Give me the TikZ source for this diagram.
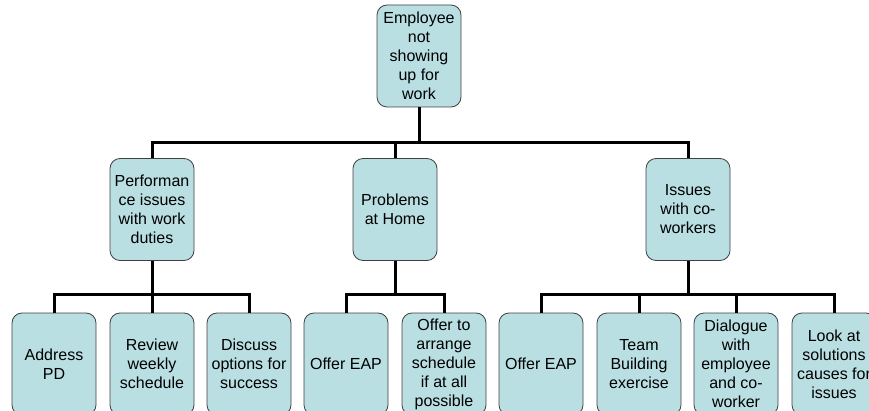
\documentclass[tikz,border=0pt]{standalone}
\usepackage{fontspec}
\setmainfont{Liberation Sans}
\usepackage{tikz}
\definecolor{boxfill}{RGB}{185,223,227}
\definecolor{boxline}{RGB}{64,64,64}
\tikzset{
    every node/.style={rectangle, rounded corners=10pt, fill=boxfill, draw=boxline,
    	line width=0.8pt, minimum width=84pt, minimum height=102pt, inner sep=2pt,
    	align=center, font=\fontsize{16}{19}\selectfont}
}
\tikzset{
    link/.style={line width=3pt, black}
}

\begin{document}
\begin{tikzpicture}[x=1pt, y=-1pt]
	\clip (0,0) rectangle (869,411);
	\node (1) at (419, 56) {Employee\\not\\showing\\up for\\work};
	\node (2) at (152, 209.5) {Performan\\ce issues\\with work\\duties};
	\node (3) at (395, 209.5) {Problems\\at Home};
	\node (4) at (688, 209.5) {Issues\\with co-\\workers};
	\node (5) at (54, 364) {Address\\PD};
	\node (6) at (152, 364) {Review\\weekly\\schedule};
	\node (7) at (249, 364) {Discuss\\options for\\success};
	\node (8) at (346, 364) {Offer EAP};
	\node (9) at (444, 364) {Offer to\\arrange\\schedule\\if at all\\possible};
	\node (10) at (541, 364) {Offer EAP};
	\node (11) at (639, 364) {Team\\Building\\exercise};
	\node (12) at (736, 364) {Dialogue\\with\\employee\\and co-\\worker};
	\node (13) at (834, 364) {Look at\\solutions\\causes for\\issues};
	
	\draw[link] (1.south) -- ++(0,35) -| (2.north);
	\draw[link] (1.south) -- ++(0,35) -| (3.north);
	\draw[link] (1.south) -- ++(0,35) -| (4.north);
	
	\draw[link] (2.south) -- ++(0,34) -| (5.north);
	\draw[link] (2.south) -- ++(0,34) -| (6.north);
	\draw[link] (2.south) -- ++(0,34) -| (7.north);
	\draw[link] (3.south) -- ++(0,34) -| (8.north);
	\draw[link] (3.south) -- ++(0,34) -| (9.north);
	\draw[link] (4.south) -- ++(0,34) -| (10.north);
	\draw[link] (4.south) -- ++(0,34) -| (11.north);
	\draw[link] (4.south) -- ++(0,34) -| (12.north);
	\draw[link] (4.south) -- ++(0,34) -| (13.north);
\end{tikzpicture}
\end{document}
